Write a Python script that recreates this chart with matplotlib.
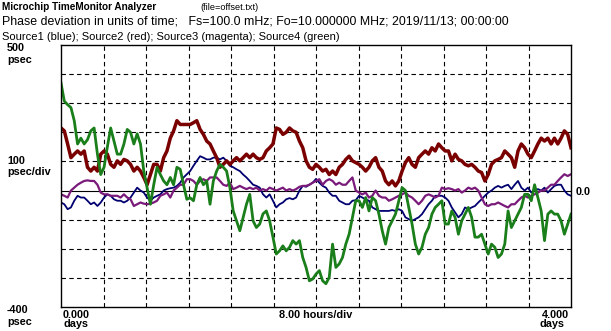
#!/usr/bin/env python3

import numpy as np
import matplotlib
matplotlib.use("Agg")
import matplotlib.pyplot as plt

# phase deviation in psec, sampled evenly over 4 days
source1_blue = [
    -41, -47, -64, -58, -35, -18, -24, -24, -35, -47, -41, -53, -41, -24, -13, -18, -30, -35, -35, -41,
    -35, -24, -7, 10, 0, -7, -24, -35, -24, -18, -13, 0, 5, 8, 10, 16, 27, 45, 56,
    67, 85, 102, 118, 113, 107, 107, 113, 113, 107, 113, 102, 85, 80, 73, 67, 55, 45, 33, 20,
    16, 10, -13, -24, -13, -35, -58, -47, -41, -30, -26, -30, -24, 0, 16, 13, 20, 27, 40,
    27, 16, 10, -7, -18, -18, -35, -41, -47, -47, -35, -33, -18, -24, -30, -35, -58, -64, -70, -70,
    -70, -70, -67, -70, -64, -70, -92, -98, -104, -98, -92, -81, -64, -47, -35, -18, -18, -18, -24,
    -35, -58, -75, -92, -81, -58, -64, -58, -53, -41, -30, -18, -7, 0, 10, 16, 10, 16, 20, 5,
    20, 33, 10, 0, 10, -7, 0, 5, 0, 10, -7, 5, 16, 20, 20, 0, -13, -18,
]
source2_red = [
    215, 205, 160, 113, 125, 136, 125, 136, 80, 67, 80, 67, 125, 136, 125, 90, 80, 102, 90, 107,
    102, 90, 67, 80, 67, 45, 20, 55, 90, 90, 67, 113, 136, 180, 205, 240, 227, 227, 227,
    227, 233, 240, 210, 193, 170, 160, 136, 113, 80, 90, 102, 90, 102, 113, 102, 113, 125, 113, 125,
    113, 107, 113, 136, 147, 160, 215, 210, 193, 200, 215, 205, 200, 170, 147, 102, 80, 73, 90,
    80, 67, 73, 55, 67, 55, 80, 90, 107, 118, 102, 96, 90, 80, 67, 80, 102, 113, 80, 67,
    33, 20, 33, 16, 33, 67, 96, 113, 90, 80, 113, 125, 136, 125, 147, 136, 160, 147, 136,
    136, 102, 125, 107, 102, 90, 85, 90, 80, 67, 62, 33, 55, 90, 102, 107, 113, 136, 125, 113,
    80, 136, 160, 147, 125, 113, 136, 160, 180, 170, 180, 160, 180, 160, 180, 205, 193, 147,
]
source3_magenta = [
    -13, -18, -24, 0, 10, 20, 27, 33, 35, 33, 33, 20, -7, -13, -13, -18, -18, -18, -24, -13,
    -24, -30, -53, -47, -41, -45, -47, -45, -41, -35, -18, -13, -7, -24, 0, 10, 20, 20, 39,
    39, 33, 20, 33, 39, 33, 45, 45, 45, 33, 20, 16, 27, 5, 10, 16, 10, 5, 10, 5,
    10, 0, 5, 0, 10, 5, 0, 5, 10, 0, 5, 0, 5, 13, 16, 16, 20, 27, 33,
    39, 20, 33, 39, 33, 20, 27, 20, 20, 33, 45, 0, -7, -13, -7, -24, -18, 0, -18, -24,
    -24, -35, -30, -24, -18, -13, -7, -18, -24, -35, -47, -35, -18, -13, -18, -24, -18, 10, 5,
    8, 5, 0, 5, -7, 0, 10, 5, 10, 0, -24, -47, -53, -47, -47, -41, -47, -53, -58, -47,
    -47, -35, -24, -18, -24, -18, -13, -7, 0, 0, 10, 20, 20, 33, 45, 56, 50, 56,
]
source4_green = [
    370, 307, 295, 285, 240, 160, 180, 160, 175, 205, 215, 125, 55, 80, 150, 215, 170, 125, 125, 160,
    210, 200, 160, 195, 160, 67, 10, -47, 20, 80, 55, 33, 20, 45, 20, 80, 73, 20, -30,
    -25, -35, 20, 45, 20, 33, -47, 33, 67, 90, 80, 67, 10, -70, -104, -138, -92, -47, -13, -104,
    -127, -115, -80, -70, -104, -160, -218, -207, -190, -207, -195, -172, -184, -172, -230, -264, -310, -304, -287,
    -275, -310, -320, -298, -184, -264, -252, -230, -184, -150, -92, -35, -35, -58, -24, -70, -24, -35, -81, -138,
    -184, -127, -104, -81, -35, 10, 0, -58, -115, -184, -218, -195, -150, -127, -81, -58, -47, -35, -115,
    -115, -70, -92, -150, -104, -81, -58, -92, -160, -160, -150, -184, -218, -184, -195, -230, -218, -184, -70, -127,
    -104, -81, -58, -13, -13, -35, 20, -24, -70, -172, -81, -70, -81, -81, -104, -150, -115, -81,
]

W, H = 611, 331


def put(fig, x, y, s, **kw):
    # place text by pixel position measured from the top-left corner
    kw.setdefault("family", "Liberation Sans")
    kw.setdefault("fontsize", 7.8)
    kw.setdefault("va", "baseline")
    fig.text(x / W, 1 - y / H, s, **kw)


fig = plt.figure(figsize=(W / 100, H / 100), dpi=100)
ax = fig.add_axes([61 / W, (H - 307) / H, 510 / W, 262 / H])

t = np.linspace(0, 4, len(source1_blue))
series = [
    (source1_blue, "#000070", 1.3),
    (source2_red, "#7a0000", 2.5),
    (source3_magenta, "#7a1a7a", 1.6),
    (source4_green, "#1a7f1a", 2.0),
]

# dashed grid, solid zero line
for v in range(-300, 500, 100):
    if v == 0:
        ax.axhline(0, color="black", lw=0.8, zorder=1)
    else:
        ax.axhline(v, color="black", lw=0.8, ls=(0, (4, 3)), zorder=1)
for k in range(1, 12):
    ax.axvline(k / 3, color="black", lw=0.8, ls=(0, (4, 3)), zorder=1)

for vals, color, lw in series:
    ax.plot(t, vals, color=color, lw=lw, zorder=2)

ax.set_xlim(0, 4)
ax.set_ylim(-400, 500)
ax.set_xticks([])
ax.set_yticks([])
for sp in ax.spines.values():
    sp.set_linewidth(1.0)

# header
put(fig, 2, 10.5, "Microchip TimeMonitor Analyzer", fontweight="bold", fontsize=7.2)
put(fig, 200, 10.5, "(file=offset.txt)", fontsize=6.6)
put(fig, 2, 24.5, "Phase deviation in units of time;   Fs=100.0 mHz; "
    "Fo=10.000000 MHz; 2019/11/13; 00:00:00", fontsize=8.9)
put(fig, 2, 40.5, "Source1 (blue); Source2 (red); Source3 (magenta); Source4 (green)",
    fontsize=8.0)

# axis annotations
bold = dict(fontweight="bold")
put(fig, 7, 51, "500", **bold)
put(fig, 7, 63, "psec", **bold)
put(fig, 7, 164, "100", **bold)
put(fig, 7, 175, "psec/div", **bold)
put(fig, 7, 313, "-400", **bold)
put(fig, 7, 325, "psec", **bold)
put(fig, 63, 318, "0.000", **bold)
put(fig, 63, 327, "days", **bold)
put(fig, 316, 318, "8.00 hours/div", ha="center", **bold)
put(fig, 569, 318, "4.000", ha="right", **bold)
put(fig, 539, 327, "days", **bold)
put(fig, 576, 195, "0.0", **bold)

fig.savefig("out.png", dpi=100)
